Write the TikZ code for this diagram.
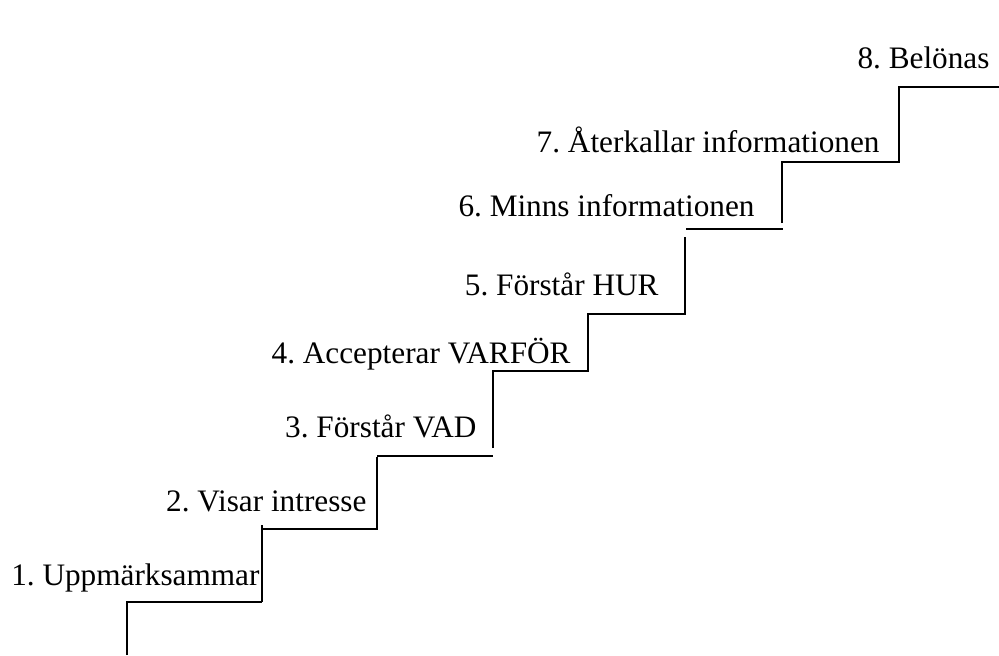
\documentclass[tikz,border=0pt]{standalone}
\usepackage{fontspec}
\setmainfont{Liberation Serif}
\frenchspacing

\begin{document}
\begin{tikzpicture}[
            x=0.4pt, y=-0.4pt,
            steptext/.style={anchor=base east, inner sep=0pt, font=\fontsize{12.5}{15}\selectfont},
            stair/.style={draw, line width=0.8pt}
            ]
            \useasboundingbox (0,0) rectangle (999,655);
            % Stairs
            \draw[stair] (127,655) -- (127,602) -- (262,602);
            \draw[stair] (262,602) -- (262,525);
            \draw[stair] (262,529) -- (377,529) -- (377,457);
            \draw[stair] (377,456) -- (493,456);
            \draw[stair] (493,448) -- (493,371) -- (588,371) -- (588,314) -- (685,314) -- (685,237);
            \draw[stair] (686,229) -- (783,229);
            \draw[stair] (782,223) -- (782,162) -- (899,162) -- (899,87) -- (999,87);
            % Steps
            \node[steptext] (s1) at (260,585) {1. Uppmärksammar};
            \node[steptext] (s2) at (367,511) {2. Visar intresse};
            \node[steptext] (s3) at (477,437) {3. Förstår VAD};
            \node[steptext] (s4) at (571,363) {4. Accepterar VARFÖR};
            \node[steptext] (s5) at (659,295) {5. Förstår HUR};
            \node[steptext] (s6) at (755,216) {6. Minns informationen};
            \node[steptext] (s7) at (880,152) {7. Återkallar informationen};
            \node[steptext] (s8) at (990,68) {8. Belönas};
          \end{tikzpicture}
\end{document}
